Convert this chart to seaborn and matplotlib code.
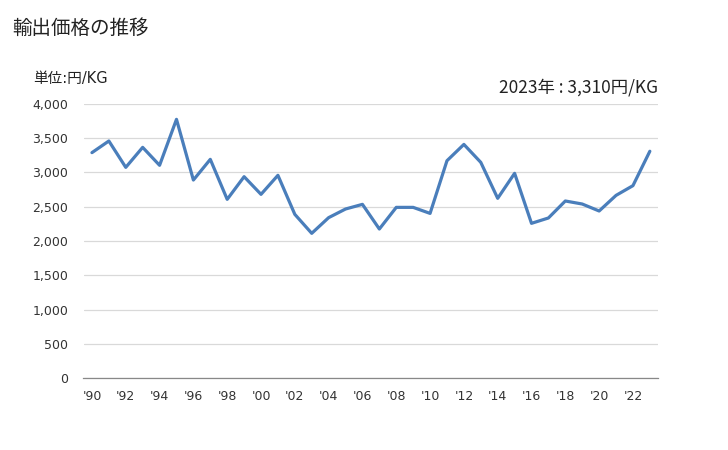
import matplotlib
matplotlib.use("Agg")
import matplotlib.pyplot as plt
import seaborn as sns
import pandas as pd

years = list(range(1990, 2024))
values = [3290, 3460, 3075, 3367, 3105, 3776, 2890, 3192, 2608, 2939,
          2681, 2959, 2389, 2112, 2341, 2467, 2535, 2175, 2491, 2491,
          2403, 3172, 3410, 3148, 2623, 2988, 2258, 2336, 2584, 2540,
          2438, 2666, 2808, 3310]
xtick_years = list(range(1990, 2023, 2))
xtick_labels = ["'" + str(y)[2:] for y in xtick_years]
ytick_values = list(range(0, 4001, 500))
ytick_labels = [f"{v:,}" for v in ytick_values]

title = "輸出価格の推移"
unit_label = "単位:円/KG"
latest_label = "2023年 : 3,310円/KG"

sns.set_theme(style="white")
plt.rcParams['font.family'] = ['Noto Sans CJK JP', 'DejaVu Sans']
latin_first = ['DejaVu Sans', 'Noto Sans CJK JP']

df = pd.DataFrame({"year": years, "value": values})

fig = plt.figure(figsize=(7.28, 4.5), dpi=100)
ax = fig.add_axes([83.5/728, 1-378/450, (658.3-83.5)/728, (378-104)/450])

sns.lineplot(data=df, x="year", y="value", ax=ax, color="#4a7ebb", linewidth=2.3)

ax.set_xlim(1989.5, 2023.5)
ax.set_ylim(0, 4000)
ax.set_yticks(ytick_values)
ax.set_yticklabels(ytick_labels, fontsize=9, color="#333333", family=latin_first)
ax.set_xticks(xtick_years)
ax.set_xticklabels(xtick_labels, fontsize=9, color="#333333", family=latin_first)
ax.set_xlabel("")
ax.set_ylabel("")
ax.grid(axis="y", color="#d9d9d9", linewidth=0.9)
ax.set_axisbelow(True)
for s in ["top", "right", "left"]:
    ax.spines[s].set_visible(False)
ax.spines["bottom"].set_color("#888888")
ax.spines["bottom"].set_linewidth(0.9)
ax.tick_params(axis="x", length=0, pad=8.5)
ax.tick_params(axis="y", length=0, pad=11)

fig.text(12/728, 1-28/450, title, fontsize=14, va="center", ha="left", color="#222222")
fig.text(33/728, 1-78/450, unit_label, fontsize=10.5, va="center", ha="left",
         color="#222222", family=latin_first)
fig.text(658/728, 1-87/450, latest_label, fontsize=12.5, va="center", ha="right", color="#222222")

fig.savefig("out.png", dpi=100)
